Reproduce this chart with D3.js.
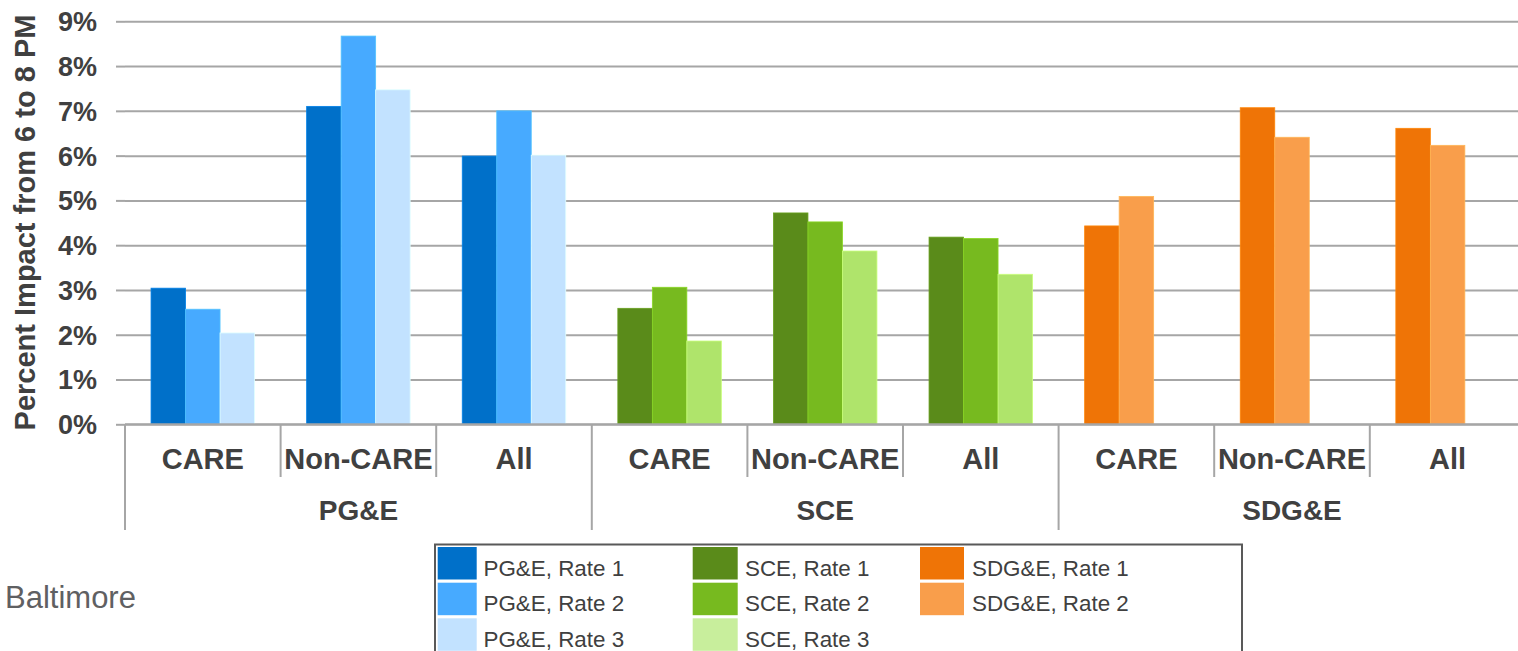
<!DOCTYPE html>
<html>
<head>
<meta charset="utf-8">
<script src="https://cdn.jsdelivr.net/npm/d3@7"></script>
<style>
  html, body { margin: 0; padding: 0; background: #fff; }
  svg { display: block; font-family: "Liberation Sans", Arial, sans-serif; }
</style>
</head>
<body>
<svg id="chart" width="1518" height="651"></svg>
<script>
// ---- data ----
const utilities = ["PG&E", "SCE", "SDG&E"];
const segments = ["CARE", "Non-CARE", "All"];
const yTickValues = [0, 0.01, 0.02, 0.03, 0.04, 0.05, 0.06, 0.07, 0.08, 0.09];

const pgeRate1 = [3.04, 7.10, 5.99];
const pgeRate2 = [2.57, 8.67, 7.00];
const pgeRate3 = [2.04, 7.47, 6.01];
const sceRate1 = [2.59, 4.72, 4.18];
const sceRate2 = [3.06, 4.52, 4.15];
const sceRate3 = [1.86, 3.87, 3.35];
const sdgeRate1 = [4.43, 7.07, 6.61];
const sdgeRate2 = [5.09, 6.41, 6.23];

const seriesNames = ["PG&E, Rate 1", "PG&E, Rate 2", "PG&E, Rate 3",
                     "SCE, Rate 1", "SCE, Rate 2", "SCE, Rate 3",
                     "SDG&E, Rate 1", "SDG&E, Rate 2"];
const barColors = ["#0070C9", "#47AAFF", "#C2E2FF",
                   "#5A8B1A", "#77BA1F", "#AFE46B",
                   "#EF7406", "#F99E4B"];
const legendColors = ["#0070C9", "#47AAFF", "#C2E2FF",
                      "#5A8B1A", "#77BA1F", "#C8EE9C",
                      "#EF7406", "#F99E4B"];

const seriesByUtility = [
  [pgeRate1, pgeRate2, pgeRate3],
  [sceRate1, sceRate2, sceRate3],
  [sdgeRate1, sdgeRate2]
];

// ---- layout ----
const svg = d3.select("#chart");
const W = 1518;
const left = 125, bandStep = 155.6;
const x0 = 424.3, x9 = 21.3;
const textColor = "#404040";
const gridColor = "#A6A6A6";

const catKeys = [];
utilities.forEach(u => segments.forEach(s => catKeys.push(u + "|" + s)));

const x = d3.scaleBand().domain(catKeys).range([left, left + bandStep * catKeys.length]).paddingInner(0).paddingOuter(0);
const xInner = d3.scaleBand().domain([0, 1, 2]).range([0, x.bandwidth()]).paddingInner(0).paddingOuter(0.755);
const y = d3.scaleLinear().domain([0, 0.09]).range([x0, x9]);

// gridlines
const grid = svg.append("g").attr("transform", `translate(${left},0)`)
  .call(d3.axisLeft(y).tickValues(yTickValues).tickSize(-(W - left)).tickFormat(""));
grid.select(".domain").remove();
grid.selectAll("line").attr("stroke", gridColor).attr("stroke-width", 2);

// bars
const flat = [];
let sIdx = 0;
seriesByUtility.forEach((list, ui) => {
  list.forEach((vals, ri) => {
    vals.forEach((v, si) => {
      flat.push({ key: utilities[ui] + "|" + segments[si], rate: ri, value: v / 100, color: barColors[sIdx] });
    });
    sIdx++;
  });
});

svg.append("g").selectAll("rect").data(flat).join("rect")
  .attr("x", d => x(d.key) + xInner(d.rate))
  .attr("y", d => y(d.value))
  .attr("width", xInner.bandwidth())
  .attr("height", d => y(0) - y(d.value))
  .attr("fill", d => d.color)
  .attr("stroke", d => d3.color(d.color).brighter(0.4))
  .attr("stroke-width", 0.8);

// y axis
const yAxis = svg.append("g").attr("transform", `translate(${left},0)`)
  .call(d3.axisLeft(y).tickValues(yTickValues).tickFormat(d3.format(".0%"))
    .tickSizeInner(9).tickSizeOuter(0).tickPadding(19));
yAxis.select(".domain").remove();
yAxis.selectAll("line").attr("stroke", gridColor).attr("stroke-width", 2);
yAxis.selectAll("text")
  .attr("fill", textColor)
  .attr("font-size", 27)
  .attr("font-weight", "bold")
  .attr("font-family", "Liberation Sans, Arial, sans-serif")
  .attr("dy", "0.35em");

// baseline
svg.append("line").attr("x1", left).attr("x2", W).attr("y1", y(0)).attr("y2", y(0))
  .attr("stroke", gridColor).attr("stroke-width", 2);

// category separators
const xg = svg.append("g");
catKeys.forEach((k, i) => {
  const xx = x(k);
  const isGroup = i % segments.length === 0;
  xg.append("line")
    .attr("x1", xx).attr("x2", xx)
    .attr("y1", y(0)).attr("y2", isGroup ? 530 : 477)
    .attr("stroke", gridColor).attr("stroke-width", 2);
});

// category labels
xg.selectAll("text.cat").data(catKeys).join("text")
  .attr("class", "cat")
  .attr("x", d => x(d) + x.bandwidth() / 2)
  .attr("y", 469)
  .attr("text-anchor", "middle")
  .attr("font-size", 29)
  .attr("font-weight", "bold")
  .attr("fill", textColor)
  .text(d => d.split("|")[1]);

// group labels
xg.selectAll("text.grp").data(utilities).join("text")
  .attr("class", "grp")
  .attr("x", u => x(u + "|" + segments[0]) + x.bandwidth() * segments.length / 2)
  .attr("y", 520)
  .attr("text-anchor", "middle")
  .attr("font-size", 28)
  .attr("font-weight", "bold")
  .attr("fill", textColor)
  .text(u => u);

// y title
svg.append("text")
  .attr("transform", "translate(35,222.5) rotate(-90)")
  .attr("text-anchor", "middle")
  .attr("font-size", 29)
  .attr("font-weight", "bold")
  .attr("fill", textColor)
  .text("Percent Impact from 6 to 8 PM");

// legend
const legend = svg.append("g");
legend.append("rect")
  .attr("x", 435).attr("y", 544.5).attr("width", 807).attr("height", 140)
  .attr("fill", "#fff").attr("stroke", "#595959").attr("stroke-width", 2);
const colX = [437.7, 692.7, 920];
const colW = [39, 45, 44];
const textX = [483.5, 745, 972];
const rowY = [547, 582.7, 618.3];
const rowH = 32.5;
const legendItems = seriesNames.map((n, i) => {
  const col = i < 3 ? 0 : (i < 6 ? 1 : 2);
  const row = i < 3 ? i : (i < 6 ? i - 3 : i - 6);
  return { name: n, col, row, color: legendColors[i] };
});
const li = legend.selectAll("g.item").data(legendItems).join("g").attr("class", "item");
li.append("rect")
  .attr("x", d => colX[d.col]).attr("y", d => rowY[d.row])
  .attr("width", d => colW[d.col]).attr("height", rowH)
  .attr("fill", d => d.color);
li.append("text")
  .attr("x", d => textX[d.col]).attr("y", d => rowY[d.row] + 28.5)
  .attr("font-size", 22.4)
  .attr("fill", textColor)
  .text(d => d.name);

// side text
svg.append("text")
  .attr("x", 5).attr("y", 608)
  .attr("font-size", 31)
  .attr("fill", "#5F6062")
  .text("Baltimore");
</script>
</body>
</html>
